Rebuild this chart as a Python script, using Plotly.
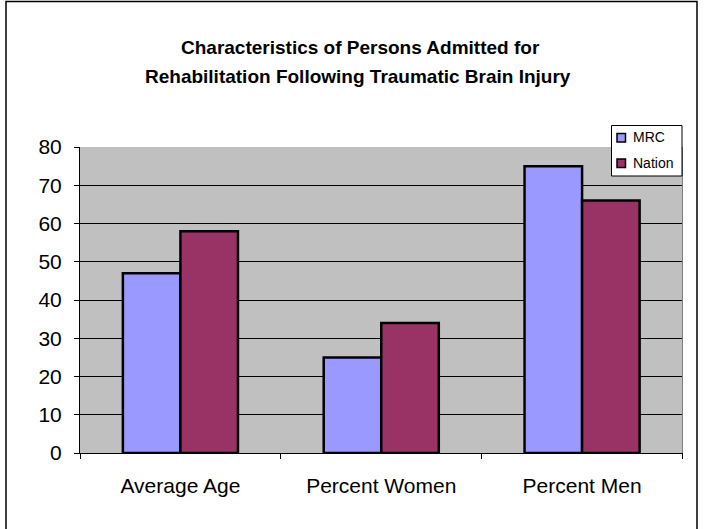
import plotly.graph_objects as go

categories = ["Average Age", "Percent Women", "Percent Men"]
series_names = ["MRC", "Nation"]
mrc = [47, 25, 75]
nation = [58, 34, 66]
series_colors = ["#9999FF", "#993366"]
yticks = [0, 10, 20, 30, 40, 50, 60, 70, 80]
title_lines = ["Characteristics of Persons Admitted for",
               "Rehabilitation Following Traumatic Brain Injury"]

W, H = 704, 529
px = lambda x: x / W
py = lambda y: 1 - y / H

x0, x1 = px(80), px(682.5)
y0, y1 = py(453), py(147)

fig = go.Figure()
for name, vals, col in zip(series_names, [mrc, nation], series_colors):
    fig.add_trace(go.Bar(name=name, x=categories, y=vals,
                         marker=dict(color=col, line=dict(color="black", width=2.5))))

fig.update_layout(
    width=W, height=H,
    margin=dict(l=0, r=0, t=0, b=0, autoexpand=False),
    paper_bgcolor="white",
    plot_bgcolor="#C0C0C0",
    barmode="group", bargap=0.427, bargroupgap=0,
    font=dict(family="Liberation Sans, Arial", color="black", size=21),
    showlegend=False,
    xaxis=dict(domain=[x0, x1], showline=True, linecolor="black", linewidth=1,
               ticks="outside", tickson="boundaries", ticklen=5, tickcolor="black",
               showgrid=False, ticklabelstandoff=14, tickfont=dict(size=21),
               automargin=False),
    yaxis=dict(domain=[y0, y1], range=[0, 80], tickvals=yticks,
               showline=True, linecolor="black", linewidth=1,
               ticks="outside", ticklen=5, tickcolor="black",
               showgrid=True, gridcolor="black", gridwidth=1,
               zeroline=False, ticklabelstandoff=8, tickfont=dict(size=21),
               automargin=False),
)

# plot area border (right side gray)
fig.add_shape(type="line", xref="paper", yref="paper", x0=x1, x1=x1, y0=y0, y1=y1,
              line=dict(color="#808080", width=1))
# figure outer border
fig.add_shape(type="rect", xref="paper", yref="paper",
              x0=px(6), x1=px(697), y0=-0.05, y1=py(1.5),
              line=dict(color="black", width=1.5), fillcolor="rgba(0,0,0,0)", layer="below")

# title
fig.add_annotation(text="<b>" + title_lines[0] + "</b>", xref="paper", yref="paper",
                   x=px(360), y=py(48), xanchor="center", yanchor="middle",
                   showarrow=False, font=dict(size=19))
fig.add_annotation(text="<b>" + title_lines[1] + "</b>", xref="paper", yref="paper",
                   x=px(358), y=py(76), xanchor="center", yanchor="middle",
                   showarrow=False, font=dict(size=19))

# legend (Excel style box)
fig.add_shape(type="rect", xref="paper", yref="paper",
              x0=px(611.5), x1=px(682), y0=py(176), y1=py(125.5),
              line=dict(color="black", width=1), fillcolor="white")
for i, (name, col) in enumerate(zip(series_names, series_colors)):
    cy = 137.5 + 25.5 * i
    fig.add_shape(type="rect", xref="paper", yref="paper",
                  x0=px(617), x1=px(625.5), y0=py(cy + 4.5), y1=py(cy - 4),
                  line=dict(color="black", width=1.5), fillcolor=col)
    fig.add_annotation(text=name, xref="paper", yref="paper",
                       x=px(630.5), y=py(cy), xanchor="left", yanchor="middle",
                       showarrow=False, font=dict(size=14))

fig.write_html("out.html", config={"displayModeBar": False},
               post_script="document.body.style.margin='0';document.body.style.padding='0';")
